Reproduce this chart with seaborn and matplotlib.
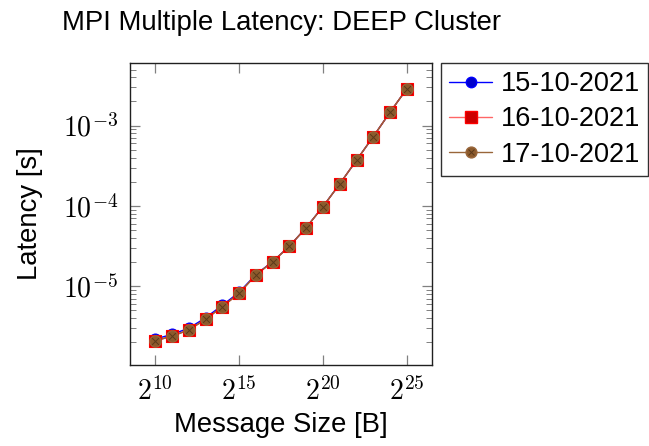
import matplotlib
matplotlib.use("Agg")
import matplotlib.pyplot as plt
import matplotlib.ticker as mticker
from matplotlib.lines import Line2D
from matplotlib.legend_handler import HandlerTuple
import numpy as np
import pandas as pd
import seaborn as sns

# Message sizes in bytes (2^10 .. 2^25)
sizes = [1024, 2048, 4096, 8192, 16384, 32768, 65536, 131072, 262144,
         524288, 1048576, 2097152, 4194304, 8388608, 16777216, 33554432]

# Latency in seconds per run date
lat_15 = [2.20e-6, 2.52e-6, 3.00e-6, 4.05e-6, 5.80e-6, 8.40e-6, 1.40e-5, 2.03e-5,
          3.16e-5, 5.38e-5, 9.82e-5, 1.88e-4, 3.71e-4, 7.30e-4, 1.47e-3, 2.88e-3]
lat_16 = [2.10e-6, 2.40e-6, 2.86e-6, 3.88e-6, 5.57e-6, 8.18e-6, 1.38e-5, 2.02e-5,
          3.15e-5, 5.37e-5, 9.80e-5, 1.88e-4, 3.71e-4, 7.30e-4, 1.47e-3, 2.88e-3]
lat_17 = [2.09e-6, 2.39e-6, 2.85e-6, 3.87e-6, 5.56e-6, 8.17e-6, 1.38e-5, 2.02e-5,
          3.15e-5, 5.37e-5, 9.80e-5, 1.88e-4, 3.71e-4, 7.30e-4, 1.47e-3, 2.88e-3]

labels = ["15-10-2021", "16-10-2021", "17-10-2021"]

df = pd.DataFrame({
    "size": sizes * 3,
    "latency": lat_15 + lat_16 + lat_17,
    "run": [labels[0]] * len(sizes) + [labels[1]] * len(sizes) + [labels[2]] * len(sizes),
})

sns.set_theme(style="white")
plt.rcParams["font.family"] = ["Liberation Sans", "DejaVu Sans"]
plt.rcParams["mathtext.fontset"] = "cm"
plt.rcParams["text.color"] = "black"
plt.rcParams["axes.labelcolor"] = "black"
plt.rcParams["xtick.labelcolor"] = "black"
plt.rcParams["ytick.labelcolor"] = "black"

fig = plt.figure(figsize=(6.49, 4.46), dpi=100)
ax = fig.add_axes([130 / 649, 1 - 365 / 446, 302 / 649, 302 / 446])

blue, blue_fill = "#0000ff", "#0000cc"
red, red_fill = "#ff0000", "#cc0000"
brown, brown_fill, brown_cross = "#99663a", "#8c5a2c", "#5a391b"

series = [
    (labels[0], blue, blue_fill, "o", 62),
    (labels[1], red, red_fill, "s", 78),
    (labels[2], brown, brown_fill, "o", 68),
]

for name, edge, fill, mk, area in series:
    sub = df[df["run"] == name]
    sns.lineplot(data=sub, x="size", y="latency", ax=ax, color=edge, lw=1.0,
                 legend=False)
    sns.scatterplot(data=sub, x="size", y="latency", ax=ax, marker=mk, s=area,
                    color=fill, edgecolor=edge, linewidth=0.8, legend=False,
                    zorder=3)

# cross inside the brown circles
sub3 = df[df["run"] == labels[2]]
sns.scatterplot(data=sub3, x="size", y="latency", ax=ax, marker="x", s=24,
                color=brown_cross, linewidth=0.7, legend=False, zorder=4)

ax.set_xscale("log", base=2)
ax.set_yscale("log")
ax.set_xlim(2 ** 8.5, 2 ** 26.5)
ax.set_ylim(10 ** -5.98, 10 ** -2.22)

ax.xaxis.set_major_locator(mticker.FixedLocator([2 ** 10, 2 ** 15, 2 ** 20, 2 ** 25]))
ax.xaxis.set_minor_locator(mticker.NullLocator())
ax.xaxis.set_major_formatter(mticker.FuncFormatter(lambda v, p: r"$2^{%d}$" % round(np.log2(v))))
ax.yaxis.set_major_locator(mticker.LogLocator(base=10))
ax.yaxis.set_minor_locator(mticker.LogLocator(base=10, subs=np.arange(2, 10)))
ax.yaxis.set_minor_formatter(mticker.NullFormatter())
ax.yaxis.set_major_formatter(mticker.FuncFormatter(lambda v, p: r"$10^{%d}$" % round(np.log10(v))))

ax.tick_params(which="both", direction="in", top=True, right=True, bottom=True, left=True,
               color="#808080")
ax.tick_params(which="major", length=7.2, width=0.9, labelsize=20)
ax.tick_params(axis="x", which="major", pad=9)
ax.tick_params(axis="y", which="major", pad=8.5)
ax.tick_params(which="minor", length=4.3, width=0.7)

for sp in ax.spines.values():
    sp.set_color("#202020")
    sp.set_linewidth(1.0)

ax.set_xlabel("Message Size [B]", fontsize=19.8, labelpad=4)
ax.set_ylabel("Latency [s]", fontsize=19.8, labelpad=14)
ax.set_title("MPI Multiple Latency: DEEP Cluster", fontsize=19.8, pad=24)

h1 = Line2D([], [], color=blue, lw=1.0, marker="o", markersize=7.5,
            markerfacecolor=blue_fill, markeredgecolor=blue)
h2 = Line2D([], [], color="#ff6666", lw=1.0, marker="s", markersize=8.0,
            markerfacecolor=red_fill, markeredgecolor=red)
h3a = Line2D([], [], color=brown, lw=1.0, marker="o", markersize=7.8,
             markerfacecolor=brown_fill, markeredgecolor=brown)
h3b = Line2D([], [], color=brown_cross, lw=0, marker="x", markersize=4.8,
             markeredgewidth=0.7)

leg = fig.legend([h1, h2, (h3a, h3b)], labels,
                 handler_map={tuple: HandlerTuple(ndivide=1)},
                 loc="upper left", bbox_to_anchor=(441 / 649, 1 - 63 / 446),
                 borderaxespad=0, fontsize=19.5, frameon=True, fancybox=False,
                 edgecolor="#303030", framealpha=1, handlelength=1.6,
                 handletextpad=0.3, labelspacing=0.34, borderpad=0.3)
leg.get_frame().set_linewidth(1.0)

fig.savefig("out.png", dpi=100)
